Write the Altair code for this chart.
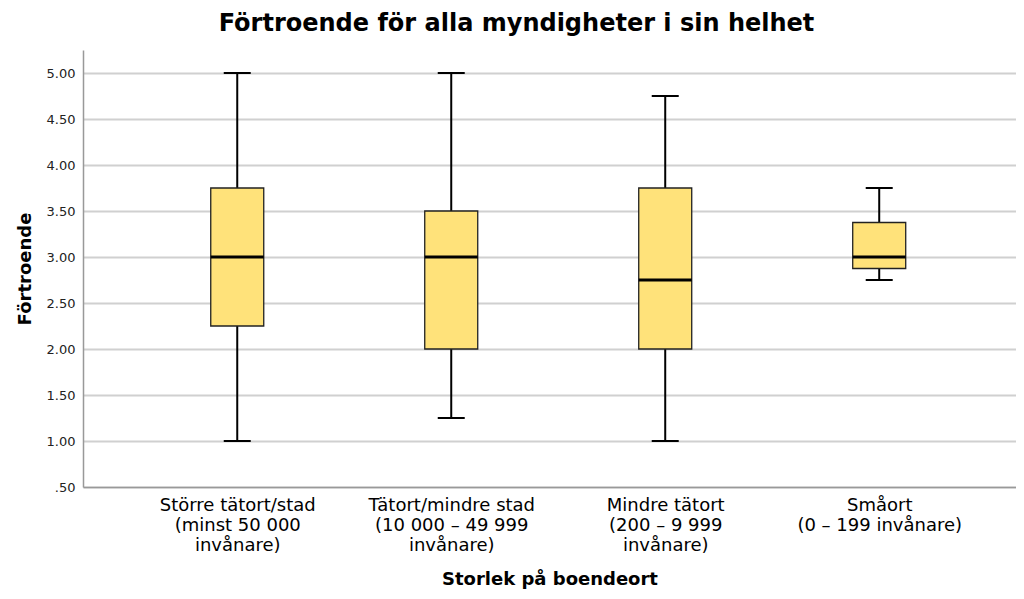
import altair as alt
import pandas as pd

categories = [
    "Större tätort/stad|(minst 50 000|invånare)",
    "Tätort/mindre stad|(10 000 – 49 999|invånare)",
    "Mindre tätort|(200 – 9 999|invånare)",
    "Småort|(0 – 199 invånare)",
]
whisker_low = [1.00, 1.25, 1.00, 2.75]
q1 = [2.25, 2.00, 2.00, 2.875]
median = [3.00, 3.00, 2.75, 3.00]
q3 = [3.75, 3.50, 3.75, 3.375]
whisker_high = [5.00, 5.00, 4.75, 3.75]
y_ticks = [0.5, 1.0, 1.5, 2.0, 2.5, 3.0, 3.5, 4.0, 4.5, 5.0]

df = pd.DataFrame({
    "cat": categories,
    "lo": whisker_low,
    "q1": q1,
    "med": median,
    "q3": q3,
    "hi": whisker_high,
})

FONT = "DejaVu Sans"

x_enc = alt.X(
    "cat:N",
    sort=categories,
    scale=alt.Scale(type="point", padding=0.68, align=0.53),
    axis=alt.Axis(
        title="Storlek på boendeort",
        labelExpr="split(datum.label, '|')",
        labelAngle=0,
        labelFontSize=18,
        labelLineHeight=20,
        labelColor="#000000",
        labelFont=FONT,
        labelPadding=9,
        ticks=False,
        grid=False,
        domainColor="#999999",
        domainWidth=1.5,
        titleFontSize=18,
        titleFont=FONT,
        titleFontWeight="bold",
        titleColor="#000000",
        titlePadding=16,
    ),
)

y_scale = alt.Scale(domain=[0.5, 5.25], nice=False, zero=False)
y_axis = alt.Axis(
    title="Förtroende",
    values=y_ticks,
    labelExpr="datum.value < 1 ? substring(format(datum.value, '.2f'), 1) : format(datum.value, '.2f')",
    labelFontSize=13,
    labelFont=FONT,
    labelColor="#222222",
    labelPadding=8,
    ticks=False,
    grid=True,
    gridColor="#d0d0d0",
    gridWidth=1.8,
    domainColor="#999999",
    domainWidth=1.5,
    titleFontSize=18,
    titleFont=FONT,
    titleFontWeight="bold",
    titleColor="#000000",
    titlePadding=12,
)

base = alt.Chart(df)

whisker = base.mark_rule(color="#000000", strokeWidth=2).encode(
    x=x_enc,
    y=alt.Y("lo:Q", scale=y_scale, axis=y_axis),
    y2="hi:Q",
)

cap_lo = base.mark_tick(color="#000000", size=27, thickness=2, opacity=1).encode(
    x=x_enc, y=alt.Y("lo:Q", scale=y_scale)
)
cap_hi = base.mark_tick(color="#000000", size=27, thickness=2, opacity=1).encode(
    x=x_enc, y=alt.Y("hi:Q", scale=y_scale)
)

box = base.mark_bar(
    size=53, fill="#FFE27A", stroke="#222222", strokeWidth=1.3, opacity=1
).encode(
    x=x_enc,
    y=alt.Y("q1:Q", scale=y_scale),
    y2="q3:Q",
)

med = base.mark_tick(color="#000000", size=53, thickness=3, opacity=1).encode(
    x=x_enc, y=alt.Y("med:Q", scale=y_scale)
)

chart = (
    alt.layer(whisker, cap_lo, cap_hi, box, med)
    .properties(
        width=933,
        height=437,
        autosize=alt.AutoSizeParams(type="none"),
        padding={"left": 75, "top": 42, "right": 0, "bottom": 112},
        title=alt.Title(
            "Förtroende för alla myndigheter i sin helhet",
            fontSize=24,
            font=FONT,
            fontWeight="bold",
            color="#000000",
            anchor="middle",
            offset=14,
            dx=-33,
        ),
    )
    .configure_view(stroke=None)
)

chart.save("out.html", embed_options={"renderer": "svg", "actions": False})
